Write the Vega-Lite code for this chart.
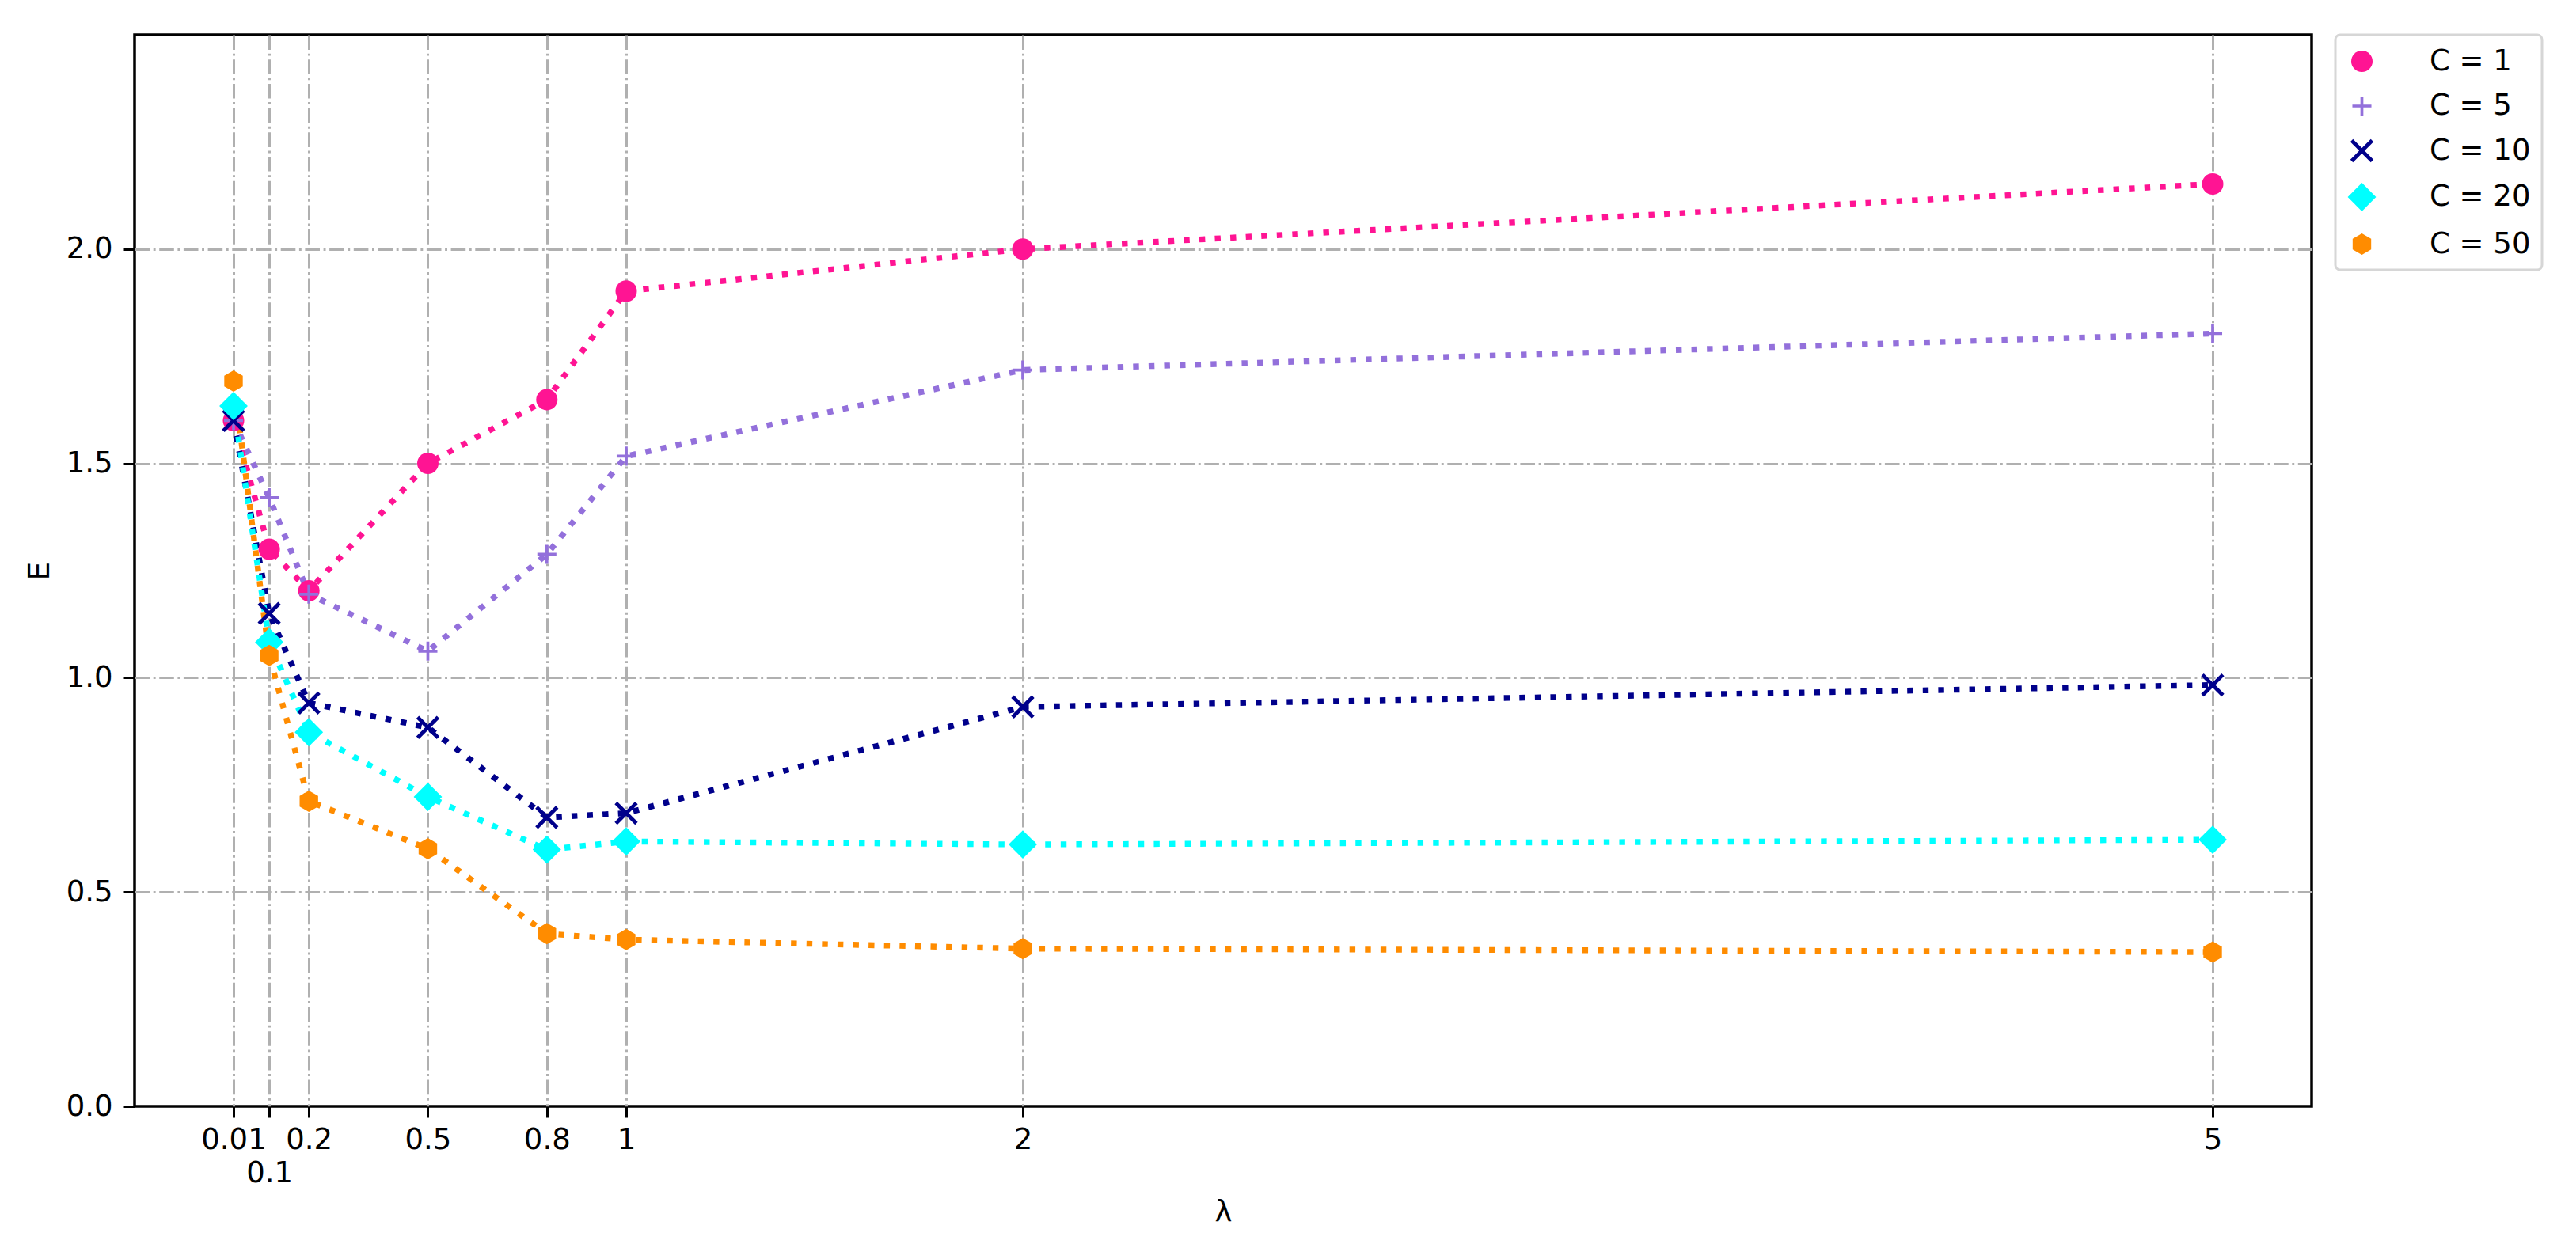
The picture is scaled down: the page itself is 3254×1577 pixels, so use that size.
{
  "$schema": "https://vega.github.io/schema/vega-lite/v6.json",
  "description": "E against lambda for several C values",
  "width": 2750,
  "height": 1354,
  "autosize": {"type": "none"},
  "padding": {"left": 170, "top": 44, "right": 334, "bottom": 179},
  "background": "white",
  "data": {
    "values": [
      {"lam": 0.01, "C": 1, "E": 1.60},
      {"lam": 0.1, "C": 1, "E": 1.30},
      {"lam": 0.2, "C": 1, "E": 1.203},
      {"lam": 0.5, "C": 1, "E": 1.50},
      {"lam": 0.8, "C": 1, "E": 1.649},
      {"lam": 1, "C": 1, "E": 1.902},
      {"lam": 2, "C": 1, "E": 2.00},
      {"lam": 5, "C": 1, "E": 2.152},
      {"lam": 0.01, "C": 5, "E": 1.60},
      {"lam": 0.1, "C": 5, "E": 1.42},
      {"lam": 0.2, "C": 5, "E": 1.195},
      {"lam": 0.5, "C": 5, "E": 1.062},
      {"lam": 0.8, "C": 5, "E": 1.288},
      {"lam": 1, "C": 5, "E": 1.517},
      {"lam": 2, "C": 5, "E": 1.718},
      {"lam": 5, "C": 5, "E": 1.803},
      {"lam": 0.01, "C": 10, "E": 1.60},
      {"lam": 0.1, "C": 10, "E": 1.15},
      {"lam": 0.2, "C": 10, "E": 0.941},
      {"lam": 0.5, "C": 10, "E": 0.884},
      {"lam": 0.8, "C": 10, "E": 0.674},
      {"lam": 1, "C": 10, "E": 0.684},
      {"lam": 2, "C": 10, "E": 0.932},
      {"lam": 5, "C": 10, "E": 0.983},
      {"lam": 0.01, "C": 20, "E": 1.634},
      {"lam": 0.1, "C": 20, "E": 1.083},
      {"lam": 0.2, "C": 20, "E": 0.873},
      {"lam": 0.5, "C": 20, "E": 0.722},
      {"lam": 0.8, "C": 20, "E": 0.599},
      {"lam": 1, "C": 20, "E": 0.618},
      {"lam": 2, "C": 20, "E": 0.611},
      {"lam": 5, "C": 20, "E": 0.622},
      {"lam": 0.01, "C": 50, "E": 1.692},
      {"lam": 0.1, "C": 50, "E": 1.052},
      {"lam": 0.2, "C": 50, "E": 0.712},
      {"lam": 0.5, "C": 50, "E": 0.601},
      {"lam": 0.8, "C": 50, "E": 0.403},
      {"lam": 1, "C": 50, "E": 0.389},
      {"lam": 2, "C": 50, "E": 0.368},
      {"lam": 5, "C": 50, "E": 0.36}
    ]
  },
  "encoding": {
    "x": {
      "field": "lam",
      "type": "quantitative",
      "title": "λ",
      "scale": {"domain": [-0.2395, 5.2495], "nice": false, "zero": false},
      "axis": {
        "values": [0.01, 0.1, 0.2, 0.5, 0.8, 1, 2, 5],
        "labelExpr": "datum.value == 0.1 ? ['', '0.1'] : '' + datum.value",
        "labelLineHeight": 42,
        "labelOverlap": false,
        "labelFlush": false,
        "labelPadding": 10,
        "titlePadding": 14
      }
    },
    "y": {
      "field": "E",
      "type": "quantitative",
      "title": "E",
      "scale": {"domain": [0, 2.5], "nice": false},
      "axis": {
        "values": [0, 0.5, 1, 1.5, 2],
        "format": ".1f",
        "labelPadding": 14,
        "titlePadding": 14,
        "gridOpacity": {"condition": {"test": "datum.value == 0", "value": 0}, "value": 1}
      }
    }
  },
  "layer": [
    {
      "mark": {"type": "line", "strokeWidth": 7.4, "strokeDash": [7.4, 12.2], "strokeCap": "butt"},
      "encoding": {
        "stroke": {
          "field": "C",
          "type": "nominal",
          "scale": {"domain": [50, 20, 10, 5, 1], "range": ["#ff8c00", "#00ffff", "#00008b", "#9370db", "#ff1493"]},
          "legend": null
        }
      }
    },
    {
      "mark": {"type": "point", "filled": true, "size": 1369, "opacity": 1, "strokeWidth": 0},
      "encoding": {
        "color": {
          "field": "C",
          "type": "nominal",
          "scale": {"domain": [1, 5, 10, 20, 50], "range": ["#ff1493", "#9370db", "#00008b", "#00ffff", "#ff8c00"]},
          "legend": {
            "title": null,
            "orient": "right",
            "offset": 30,
            "padding": 14,
            "strokeColor": "#d6d6d6",
            "cornerRadius": 6,
            "fillColor": "white",
            "symbolSize": 1369,
            "symbolOpacity": 1,
            "rowPadding": 18.5,
            "labelOffset": 66,
            "labelFont": "DejaVu Sans",
            "labelFontSize": 37,
            "labelColor": "black",
            "labelExpr": "'C = ' + datum.label"
          }
        },
        "shape": {
          "field": "C",
          "type": "nominal",
          "scale": {
            "domain": [1, 5, 10, 20, 50],
            "range": [
              "M-0.73,0C-0.73,-0.4032,-0.4032,-0.73,0,-0.73C0.4032,-0.73,0.73,-0.4032,0.73,0C0.73,0.4032,0.4032,0.73,0,0.73C-0.4032,0.73,-0.73,0.4032,-0.73,0Z",
              "M-0.65,-0.1H-0.1V-0.65H0.1V-0.1H0.65V0.1H0.1V0.65H-0.1V0.1H-0.65Z",
              "M-0.608,-0.792L0.792,0.608L0.608,0.792L-0.792,-0.608ZM-0.792,0.608L0.608,-0.792L0.792,-0.608L-0.608,0.792Z",
              "M0,-0.97L0.97,0L0,0.97L-0.97,0Z",
              "M0,-0.73L0.632,-0.365L0.632,0.365L0,0.73L-0.632,0.365L-0.632,-0.365Z"
            ]
          }
        }
      }
    }
  ],
  "config": {
    "view": {"stroke": "black", "strokeWidth": 3.5},
    "legend": {"strokeWidth": 3},
    "axis": {
      "domain": false,
      "grid": true,
      "gridColor": "#b0b0b0",
      "gridWidth": 3,
      "gridDash": [18.6, 4.6, 2.9, 4.6],
      "gridOpacity": 1,
      "ticks": true,
      "tickColor": "black",
      "tickWidth": 3,
      "tickSize": 14,
      "labelFont": "DejaVu Sans",
      "labelFontSize": 37,
      "labelColor": "black",
      "titleFont": "DejaVu Sans",
      "titleFontSize": 37,
      "titleFontWeight": "normal",
      "titleColor": "black"
    }
  }
}
